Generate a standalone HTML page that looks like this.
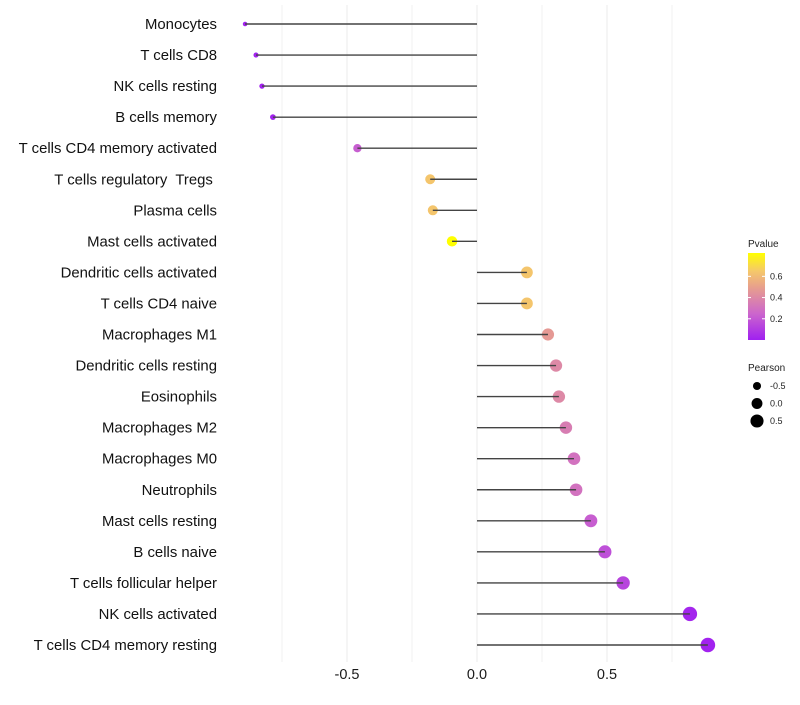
<!DOCTYPE html>
<html><head><meta charset="utf-8"><style>
body{margin:0;background:#fff;font-family:"Liberation Sans",sans-serif}
</style></head><body>
<svg id="chart" width="800" height="700" xmlns="http://www.w3.org/2000/svg" font-family="Liberation Sans, sans-serif"></svg>
<script>
const categories=["Monocytes","T cells CD8","NK cells resting","B cells memory","T cells CD4 memory activated","T cells regulatory  Tregs ","Plasma cells","Mast cells activated","Dendritic cells activated","T cells CD4 naive","Macrophages M1","Dendritic cells resting","Eosinophils","Macrophages M2","Macrophages M0","Neutrophils","Mast cells resting","B cells naive","T cells follicular helper","NK cells activated","T cells CD4 memory resting"];
const pearson=[-0.892,-0.85,-0.827,-0.785,-0.46,-0.18,-0.17,-0.096,0.192,0.192,0.273,0.304,0.315,0.342,0.373,0.381,0.438,0.492,0.562,0.819,0.888];
const pvalue=[0.01,0.01,0.01,0.01,0.22,0.64,0.64,0.82,0.64,0.64,0.47,0.4,0.4,0.35,0.3,0.3,0.22,0.17,0.13,0.02,0.01];
const xTicks=[-0.5,0,0.5];
const xTickLabels=["-0.5","0.0","0.5"];
const xMinor=[-0.75,-0.25,0.25,0.75];
const cbTicks=[0.2,0.4,0.6];
const sizeLegend=[-0.5,0,0.5];

const svg=document.getElementById('chart');
const NS="http://www.w3.org/2000/svg";
const x=v=>477+260*v;
const y=i=>24+31.05*i;
const r=v=>0.3+Math.sqrt(Math.max(3,26.5+25.3*v));
const stops=[[0,[160,32,240]],[0.25,[204,102,204]],[0.5,[232,160,140]],[0.65,[245,200,106]],[0.82,[255,255,0]]];
function col(p){
  for(let k=0;k<stops.length-1;k++){const a=stops[k],b=stops[k+1];
    if(p<=b[0]||k==stops.length-2){const t=Math.max(0,Math.min(1,(p-a[0])/(b[0]-a[0])));
      return 'rgb('+a[1].map((c,j)=>Math.round(c+(b[1][j]-c)*t)).join(',')+')';}}
}
const cbY=p=>340-p*(87/0.82);
function el(t,a,txt){const e=document.createElementNS(NS,t);for(const k in a)e.setAttribute(k,a[k]);if(txt!=null)e.textContent=txt;svg.appendChild(e);return e;}

xMinor.forEach(v=>{const e=el('line',{x1:x(v),x2:x(v),y1:5,y2:662,stroke:'#f2f2f2','stroke-width':1});

});
xTicks.forEach((v,i)=>{const e=el('line',{x1:x(v),x2:x(v),y1:5,y2:662,stroke:'#ebebeb','stroke-width':1});


const t=el('text',{x:x(v),y:679,'text-anchor':'middle','font-size':14.5,fill:'#1a1a1a'},xTickLabels[i]);

});

categories.forEach((c,i)=>{
  const t=el('text',{x:217,y:y(i)+5,'text-anchor':'end','font-size':14.9,fill:'#111',style:'white-space:pre'},c);
  
  
  const p=el('circle',{cx:x(pearson[i]),cy:y(i),r:r(pearson[i]),fill:col(pvalue[i])});
  
  
  const l=el('line',{x1:x(0),x2:x(pearson[i]),y1:y(i),y2:y(i),stroke:'#444','stroke-width':1.4});
  
  
});

const lt=el('text',{x:748,y:247,'font-size':10,fill:'#222'},'Pvalue');


const defs=document.createElementNS(NS,'defs');svg.appendChild(defs);
const g=document.createElementNS(NS,'linearGradient');g.setAttribute('id','cb');g.setAttribute('x1','0');g.setAttribute('y1','1');g.setAttribute('x2','0');g.setAttribute('y2','0');defs.appendChild(g);
stops.forEach(s=>{const st=document.createElementNS(NS,'stop');st.setAttribute('offset',s[0]/0.82);st.setAttribute('stop-color',col(s[0]));g.appendChild(st);});
const cb=el('rect',{x:748,y:253,width:17,height:87,fill:'url(#cb)'});


cbTicks.forEach(v=>{el('line',{x1:748,x2:751,y1:cbY(v),y2:cbY(v),stroke:'#fff'});el('line',{x1:762,x2:765,y1:cbY(v),y2:cbY(v),stroke:'#fff'});
const t=el('text',{x:770,y:cbY(v)+3,'font-size':9,fill:'#222'},v.toFixed(1));

});
const st2=el('text',{x:748,y:371,'font-size':10,fill:'#222'},'Pearson');


sizeLegend.forEach((v,i)=>{const cy=386+17.5*i;
const c=el('circle',{cx:757,cy:cy,r:r(v),fill:'#000'});


const t=el('text',{x:770,y:cy+3,'font-size':9,fill:'#222'},v.toFixed(1));

});
</script>
</body></html>
